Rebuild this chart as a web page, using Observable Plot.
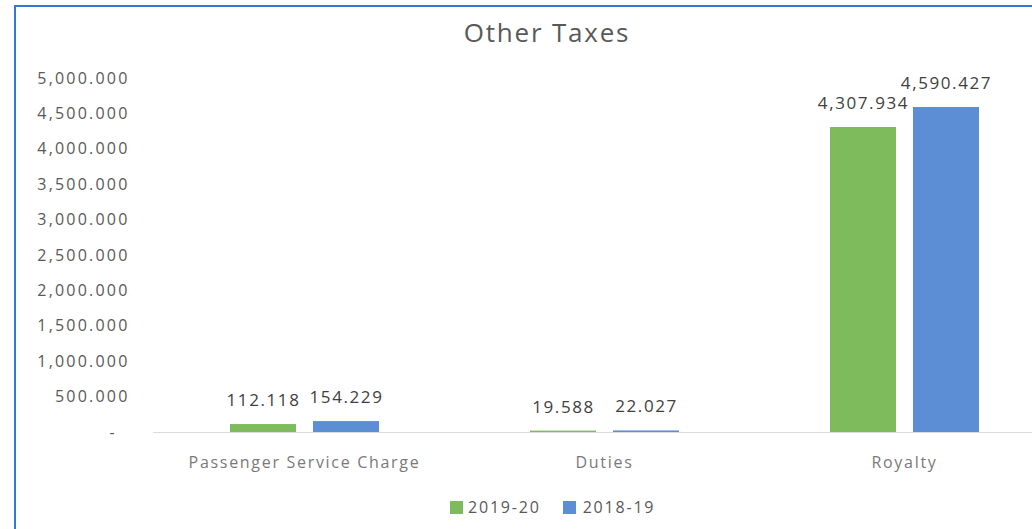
<!DOCTYPE html>
<html>
<head>
<meta charset="utf-8">
<script src="https://cdn.jsdelivr.net/npm/d3@7"></script>
<script src="https://cdn.jsdelivr.net/npm/@observablehq/plot@0.6"></script>
<style>
  html, body { margin: 0; padding: 0; background: #fff; overflow: hidden; width: 1032px; height: 529px; }
  body { position: relative; font-family: "Open Sans", sans-serif; }
  #frame { position: absolute; left: 14px; top: 5px; width: 1100px; height: 600px; border-left: 2px solid #2f7bd7; border-top: 2px solid #2f7bd7; box-sizing: border-box; }
  #title { position: absolute; left: 0; top: 13px; width: 1094px; text-align: center; font-size: 26px; letter-spacing: 1.8px; color: #595959; line-height: 38px; }
  #chart { position: absolute; left: 0; top: 55px; width: 1054px; }
  #legend { position: absolute; left: 450px; top: 496px; display: flex; align-items: center; font-size: 16px; letter-spacing: 1.8px; color: #595959; line-height: 22px; }
  .sw { display: inline-block; width: 13px; height: 13px; margin-right: 5px; }
  .item { display: flex; align-items: center; margin-right: 22px; }
  .item + .item .sw { margin-right: 7px; }
</style>
</head>
<body>
<div id="frame"></div>
<div id="title">Other Taxes</div>
<div id="chart"></div>
<div id="legend"></div>
<script>
const categories = ["Passenger Service Charge", "Duties", "Royalty"];
const series = ["2019-20", "2018-19"];
const values2019_20 = [112.118, 19.588, 4307.934];
const values2018_19 = [154.229, 22.027, 4590.427];
const yTicks = [0, 500, 1000, 1500, 2000, 2500, 3000, 3500, 4000, 4500, 5000];
const colors = ["#7dbb5c", "#5b8ed5"];

const data = [];
categories.forEach((c, i) => {
  data.push({category: c, series: series[0], value: values2019_20[i]});
  data.push({category: c, series: series[1], value: values2018_19[i]});
});

const fmt = d3.format(",.3f");

const plot = Plot.plot({
  width: 1054,
  height: 422,
  marginTop: 23,
  marginBottom: 45,
  marginLeft: 153,
  marginRight: 0,
  style: {fontFamily: "Open Sans, sans-serif", background: "transparent", overflow: "visible", maxWidth: "none"},
  fx: {domain: categories, paddingInner: 0.5, paddingOuter: 0.25, label: null},
  x: {domain: series, paddingInner: 0.21, paddingOuter: 0, axis: null},
  y: {domain: [0, 5000], label: null},
  color: {domain: series, range: colors},
  marks: [
    Plot.axisY({
      ticks: yTicks,
      tickSize: 0,
      tickPadding: 100,
      tickFormat: d => d === 0 ? "-\u00a0\u00a0" : fmt(d),
      fontSize: 16,
      fill: "#595959",
      label: null,
      className: "yax"
    }),
    Plot.axisFx({
      anchor: "bottom",
      tickSize: 0,
      tickPadding: 24,
      fontSize: 16,
      fill: "#7a7a7a",
      label: null,
      className: "fxax"
    }),
    Plot.ruleY([0], {stroke: "#dcdcdc", strokeWidth: 1.2, insetLeft: -76, insetRight: -76}),
    Plot.barY(data, {fx: "category", x: "series", y: "value", fill: "series"}),
    Plot.text(data, {
      fx: "category", x: "series", y: "value",
      text: d => fmt(d.value),
      dy: -24,
      fontSize: 17,
      fill: "#404040",
      className: "dlab"
    })
  ]
});
plot.querySelectorAll(".yax text").forEach(t => t.setAttribute("letter-spacing", "2.2"));
plot.querySelectorAll(".fxax text").forEach(t => t.setAttribute("letter-spacing", "1.7"));
plot.querySelectorAll(".dlab text").forEach(t => t.setAttribute("letter-spacing", "1.6"));
document.getElementById("chart").appendChild(plot);

const legend = document.getElementById("legend");
series.forEach((s, i) => {
  const item = document.createElement("div");
  item.className = "item";
  const sw = document.createElement("span");
  sw.className = "sw";
  sw.style.background = colors[i];
  item.appendChild(sw);
  item.appendChild(document.createTextNode(s));
  legend.appendChild(item);
});
</script>
</body>
</html>
